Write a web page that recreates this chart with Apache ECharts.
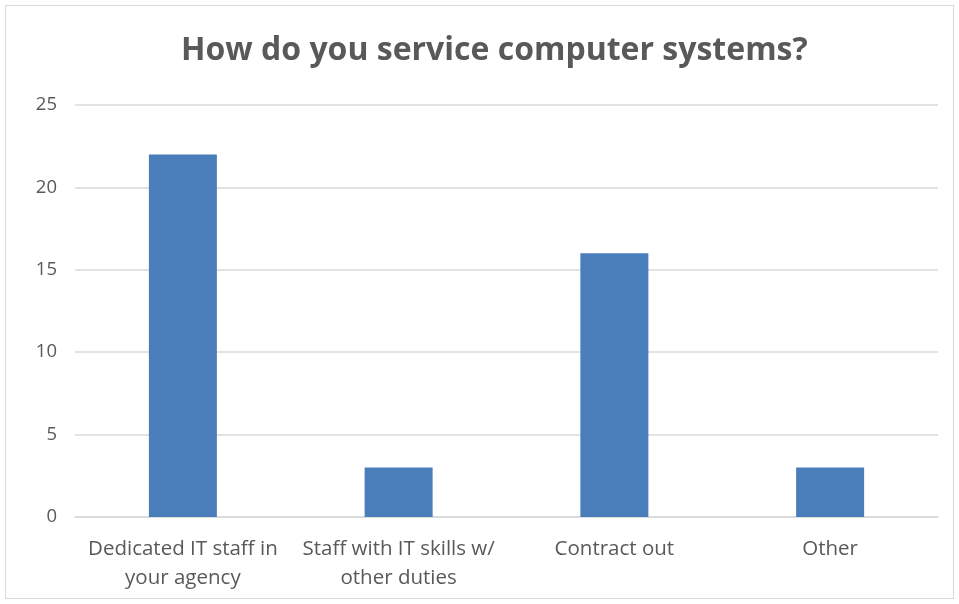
<!DOCTYPE html>
<html>
<head>
<meta charset="utf-8">
<script src="https://cdn.jsdelivr.net/npm/echarts@6/dist/echarts.min.js"></script>
<style>
html,body{margin:0;padding:0;background:#fff;}
#wrap{position:absolute;left:5px;top:5px;width:949px;height:594px;border:1px solid #d9d9d9;box-sizing:border-box;}
#chart{position:absolute;left:0;top:0;width:959px;height:604px;}
</style>
</head>
<body>
<div id="wrap"></div>
<div id="chart"></div>
<script>
const titleText = 'How do you service computer systems?';
const categories = ['Dedicated IT staff in\nyour agency', 'Staff with IT skills w/\nother duties', 'Contract out', 'Other'];
const values = [22, 3, 16, 3];
const yTicks = {min: 0, max: 25, interval: 5};

const chart = echarts.init(document.getElementById('chart'), null, {renderer: 'canvas'});
chart.setOption({
  backgroundColor: 'transparent',
  animation: false,
  title: {
    text: titleText,
    left: 176,
    top: 30,
    textStyle: {fontFamily: 'Open Sans', fontSize: 32, fontWeight: 'bold', color: '#595959'}
  },
  grid: {left: 75, right: 21, top: 105, bottom: 87, containLabel: false},
  xAxis: {
    type: 'category',
    data: categories,
    axisLine: {show: true, lineStyle: {color: '#d9d9d9', width: 1.5}},
    axisTick: {show: false},
    axisLabel: {color: '#595959', fontFamily: 'Open Sans', fontSize: 20.5, lineHeight: 29, margin: 18, interval: 0}
  },
  yAxis: {
    type: 'value',
    min: yTicks.min, max: yTicks.max, interval: yTicks.interval,
    axisLine: {show: false},
    axisTick: {show: false},
    splitLine: {lineStyle: {color: '#d9d9d9', width: 1.5}},
    axisLabel: {color: '#595959', fontFamily: 'Open Sans', fontSize: 18.5, margin: 18}
  },
  series: [{
    type: 'bar',
    data: values,
    barWidth: 68,
    itemStyle: {color: '#4a7ebb'}
  }]
});
</script>
</body>
</html>
